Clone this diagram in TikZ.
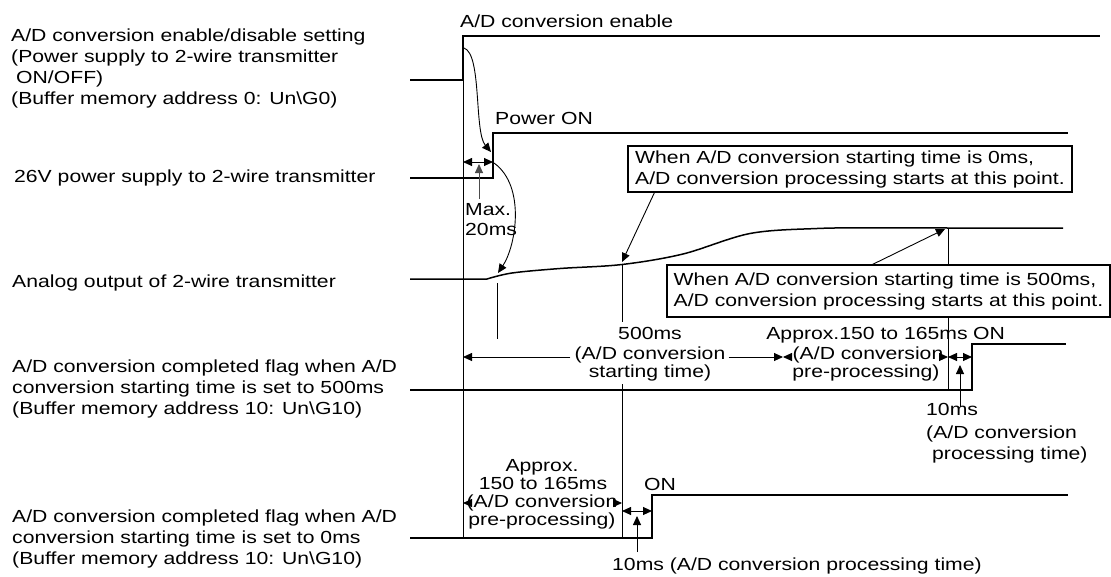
\documentclass[tikz,border=0pt]{standalone}
\usepackage{fontspec}
\setmainfont{Liberation Sans}[FakeStretch=1.21]
\usetikzlibrary{arrows.meta}
\begin{document}
\begin{tikzpicture}[x=1pt,y=-1pt,
  every node/.style={font=\fontsize{17.5}{21}\selectfont, inner sep=0pt},
  lbl/.style={anchor=base west},
  lblc/.style={anchor=base},
  sig/.style={line width=1.5pt, line join=miter},
  thinl/.style={line width=0.9pt},
  >={Triangle[length=9pt,width=8pt]},
  arr/.style={thinl,->},
  dbl/.style={thinl,<->},
  box/.style={draw, line width=1.1pt, fill=white, align=left}]
\useasboundingbox (0,0) rectangle (1111,576);

% ---------- left labels ----------
\node[lbl] (l1a) at (11,41) {A/D conversion enable/disable setting};
\node[lbl] (l1b) at (11,62) {(Power supply to 2-wire transmitter};
\node[lbl] (l1c) at (16,83) {ON/OFF)};
\node[lbl] (l1d) at (11,104) {(Buffer memory address 0: Un\textbackslash G0)};
\node[lbl] (l2) at (14,182) {26V power supply to 2-wire transmitter};
\node[lbl] (l3) at (12,287) {Analog output of 2-wire transmitter};
\node[lbl] (l4a) at (12,372) {A/D conversion completed flag when A/D};
\node[lbl] (l4b) at (12,393) {conversion starting time is set to 500ms};
\node[lbl] (l4c) at (12,414) {(Buffer memory address 10: Un\textbackslash G10)};
\node[lbl] (l5a) at (12,522) {A/D conversion completed flag when A/D};
\node[lbl] (l5b) at (12,543) {conversion starting time is set to 0ms};
\node[lbl] (l5c) at (12,564) {(Buffer memory address 10: Un\textbackslash G10)};

% ---------- key coordinates ----------
\coordinate (e0) at (410,80);  \coordinate (e1) at (463,80);
\coordinate (e2) at (463,36);  \coordinate (e3) at (1100,36);
\coordinate (p0) at (410,178); \coordinate (p1) at (493,178);
\coordinate (p2) at (493,133); \coordinate (p3) at (1068,133);
\coordinate (f0) at (410,390); \coordinate (f1) at (972,390);
\coordinate (f2) at (972,344); \coordinate (f3) at (1066,344);
\coordinate (g0) at (410,538); \coordinate (g1) at (652,538);
\coordinate (g2) at (652,495); \coordinate (g3) at (1068,495);
\coordinate (vbot) at (463,538);

% ---------- waveforms ----------
\draw[sig] (e0) -- (e1) -- (e2) -- (e3);
\draw[sig] (p0) -- (p1) -- (p2) -- (p3);
\draw[sig] (410,279) -- plot[smooth, tension=0.55] coordinates
  {(487,279) (512,273) (560,268.5) (622,264.5) (683,254) (750,233.5) (817,228.5) (880,227.8) (948,228)} -- (1063,228);
\draw[sig] (f0) -- (f1) -- (f2) -- (f3);
\draw[sig] (g0) -- (g1) -- (g2) -- (g3);

% ---------- vertical reference lines ----------
\draw[thinl] (e2) -- (vbot);
\draw[thinl] (497,283) -- (497,339);
\draw[thinl] (622,265) -- (622,322);
\draw[thinl] (622,384) -- (622,538);
\draw[thinl] (948,228) -- (948,390);

% ---------- top labels ----------
\node[lbl] (t1) at (460,27) {A/D conversion enable};
\node[lbl] (t2) at (495,124) {Power ON};
\node[lbl] (mx1) at (465,215) {Max.};
\node[lbl] (mx2) at (465,235) {20ms};

% Max 20ms arrows
\draw[dbl] (463,162) -- (493,162);
\draw[arr, draw=black!70] (479,199) -- (479,164);

% curved arrows
\draw[arr] (464,48) .. controls (482,54) and (474,132) .. (491,152);
\draw[arr] (494,163) .. controls (526,186) and (516,246) .. (498,273);

% ---------- boxes ----------
\node[box, minimum width=444pt, minimum height=46pt] (box1) at (850,169)
  {When A/D conversion starting time is 0ms,\\A/D conversion processing starts at this point.};
\node[box, minimum width=443pt, minimum height=52pt] (box2) at (888.5,291)
  {When A/D conversion starting time is 500ms,\\A/D conversion processing starts at this point.};
\coordinate (ap1) at (622,262);
\coordinate (ap2) at (945,229);
\draw[arr] (box1.south west) ++(27,0) -- (ap1);
\draw[arr] (box2.north west) ++(206,0) -- (ap2);

% ---------- 500ms group ----------
\coordinate (ya) at (0,357);
\node[lblc] (m1) at (650,339) {500ms};
\node[lblc] (m2) at (650,359) {(A/D conversion};
\node[lblc] (m3) at (650,377) {starting time)};
\node[lblc] (q1) at (867,339) {Approx.150 to 165ms};
\node[lblc] (q2) at (868,359) {(A/D conversion};
\node[lblc] (q3) at (866,377) {pre-processing)};
\node[lbl] (on1) at (973,339) {ON};
\coordinate (x783) at (783,357);
\coordinate (x948) at (948,357);
\coordinate (x972) at (972,357);
\draw[arr] ([xshift=-4pt]m2.west |- ya) -- (463,357);
\draw[arr] ([xshift=3pt]m2.east |- ya) -- (x783);
\draw[arr] ([xshift=-1pt]q2.west |- ya) -- (x783);
\draw[arr] ([xshift=1pt]q2.east |- ya) -- (x948);
\draw[dbl] (x948) -- (x972);
\draw[arr] (960,407) -- (960,365);
\node[lbl] (r1) at (926,415) {10ms};
\node[lbl] (r2) at (926,438) {(A/D conversion};
\node[lbl] (r3) at (932,459) {processing time)};

% ---------- bottom group ----------
\coordinate (yb) at (0,503);
\node[lblc] (b1) at (542,471) {Approx.};
\node[lblc] (b2) at (543,489) {150 to 165ms};
\node[lblc] (b3) at (542,507) {(A/D conversion};
\node[lblc] (b4) at (542,525) {pre-processing)};
\node[lbl] (on2) at (644,490) {ON};
\draw[arr] ([xshift=-1pt]b3.west |- yb) -- (463,503);
\draw[arr] ([xshift=1pt]b3.east |- yb) -- (622,503);
\draw[dbl] (622,511) -- (652,511);
\draw[arr] (637,552) -- (637,516);
\node[lbl] (s1) at (612,570) {10ms (A/D conversion processing time)};
\end{tikzpicture}
\end{document}
